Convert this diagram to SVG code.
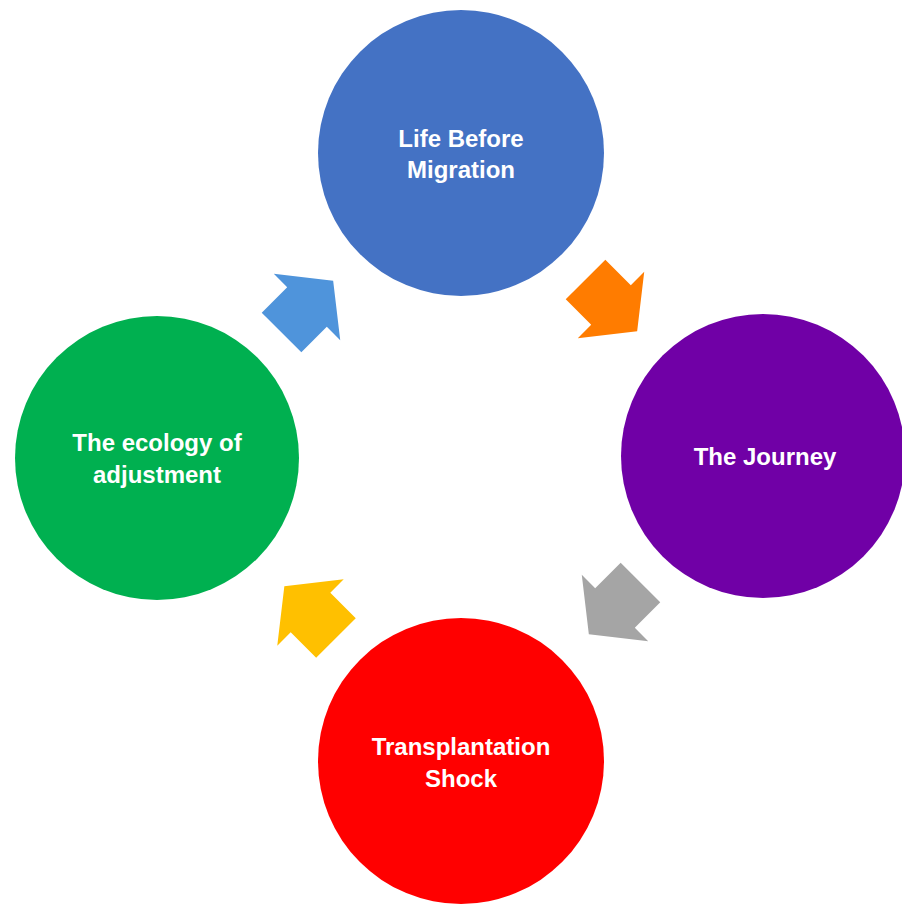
<svg xmlns="http://www.w3.org/2000/svg" width="902" height="904" viewBox="0 0 902 904">
  <defs>
    <style>
      .lbl { font-family: "Liberation Sans", Arial, sans-serif; font-weight: bold; font-size: 24px; fill: #ffffff; text-anchor: middle; }
    </style>
    <polygon id="arrowShape" points="-36,-28 0,-28 0,-47 37,0 0,47 0,28 -36,28"/>
  </defs>
  <rect width="902" height="904" fill="#ffffff"/>

  <g id="node-life-before-migration">
    <circle cx="461" cy="153" r="143" fill="#4472C4"/>
    <text class="lbl" x="461" y="147">Life Before</text>
    <text class="lbl" x="461" y="178">Migration</text>
  </g>
  <g id="node-the-journey">
    <circle cx="763" cy="456" r="142" fill="#7000A6"/>
    <text class="lbl" x="765" y="465">The Journey</text>
  </g>
  <g id="node-transplantation-shock">
    <circle cx="461" cy="761" r="143" fill="#FF0000"/>
    <text class="lbl" x="461" y="755">Transplantation</text>
    <text class="lbl" x="461" y="787">Shock</text>
  </g>
  <g id="node-ecology-of-adjustment">
    <circle cx="157" cy="458" r="142" fill="#00B050"/>
    <text class="lbl" x="157" y="451">The ecology of</text>
    <text class="lbl" x="157" y="483">adjustment</text>
  </g>

  <g id="connectors">
    <use href="#arrowShape" transform="translate(611,305) rotate(45)" fill="#FF7C00"/>
    <use href="#arrowShape" transform="translate(615,608) rotate(135)" fill="#A5A5A5"/>
    <use href="#arrowShape" transform="translate(310.5,612.5) rotate(-135)" fill="#FFC000"/>
    <use href="#arrowShape" transform="translate(307,307) rotate(-45)" fill="#4F94DB"/>
  </g>
</svg>
